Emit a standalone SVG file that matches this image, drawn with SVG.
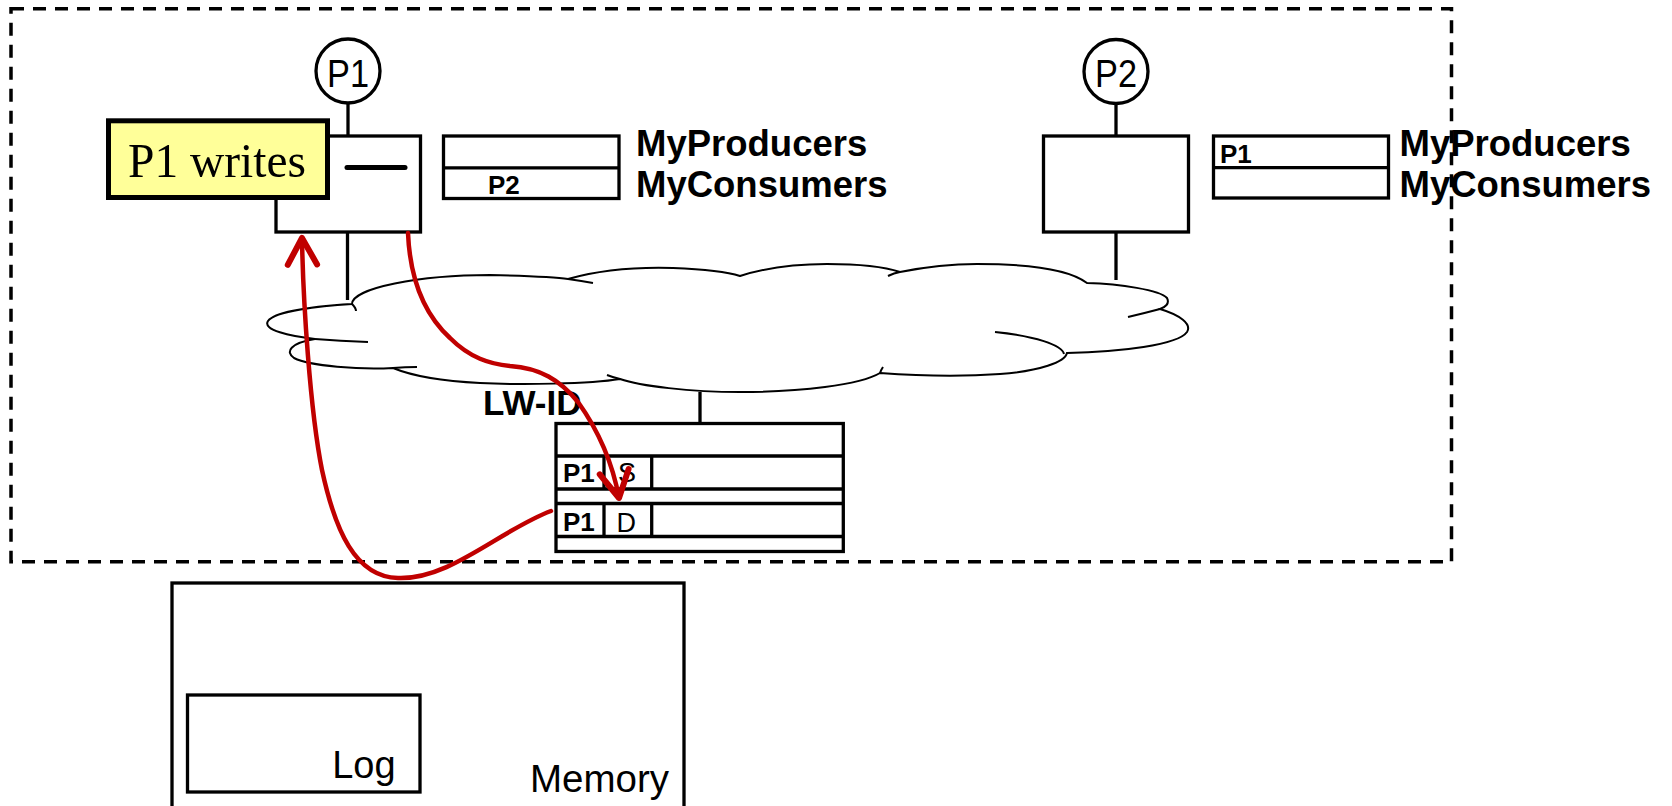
<svg xmlns="http://www.w3.org/2000/svg" width="1672" height="806" viewBox="0 0 1672 806">
<defs>
<style>
.k{fill:#fff;stroke:#000;stroke-width:3.3}
.ln{fill:none;stroke:#000;stroke-width:3.3}
.c{fill:#fff;stroke:#000;stroke-width:2}
.ct{fill:none;stroke:#000;stroke-width:2}
.r{fill:none;stroke:#C00000;stroke-width:4.5;stroke-linecap:round}
.s{font-family:"Liberation Sans",Arial,sans-serif;fill:#000}
.b{font-family:"Liberation Sans",Arial,sans-serif;font-weight:bold;fill:#000}
</style>
<marker id="ah" markerUnits="userSpaceOnUse" markerWidth="40" markerHeight="40" refX="0" refY="0" viewBox="-25 -15 30 30" orient="auto" overflow="visible">
<path d="M-20,-11 L0,0 L-20,11" fill="none" stroke="#C00000" stroke-width="4.5" stroke-linecap="round" stroke-linejoin="round"/>
</marker>
</defs>
<rect width="1672" height="806" fill="#fff"/>
<g id="boundary">
<rect x="11" y="8.7" width="1440.5" height="553" fill="none" stroke="#000" stroke-width="3.5" stroke-dasharray="13 9"/>
</g>
<g id="links">
<line class="ln" x1="348" y1="103" x2="348" y2="136"/>
<line class="ln" x1="347.5" y1="232" x2="347.5" y2="300"/>
<line class="ln" x1="1116" y1="103" x2="1116" y2="136"/>
<line class="ln" x1="1116" y1="232" x2="1116" y2="280"/>
<line class="ln" x1="700" y1="392" x2="700" y2="423.5"/>
</g>
<g id="cloud">
<path class="c" d="M352,304 C352,288 420,275 490,275 C530,276 555,277 568,279 C600,270 640,267 673,268 C700,269 725,271 740,276 C765,268 795,264 827,264 C860,264 885,267 900,272 C930,266 955,264 977,264 C1030,264 1070,270 1087,283 C1120,284 1160,290 1167,298 C1170,304 1165,307 1160,309 C1180,315 1192,324 1187,332 C1178,345 1120,352 1067,353 C1065,362 1040,371 1000,374 C960,377 920,376 880,373 C860,385 800,392 740,392 C690,392 640,386 620,379 C590,384 520,385 480,383 C440,381 410,375 393,368 C360,370 310,366 294,358 C285,352 290,343 315,339 C290,336 262,330 268,321 C275,311 320,306 352,304 Z"/>
<path class="ct" d="M568,279 Q582,281 593,283 M888,276 Q894,273 900,272 M1160,309 Q1145,313 1128,317 M1064,354 C1062,345 1035,336 995,332 M880,373 Q881,370 883,367 M620,379 Q612,377 607,375 M393,368 Q405,367 417,367 M315,339 Q340,341 368,342 M352,304 Q356,308 356,311"/>
</g>
<g id="p1-proc">
<circle class="k" cx="348" cy="71" r="32"/>
<text class="s" x="348" y="86.5" font-size="38" text-anchor="middle" textLength="42" lengthAdjust="spacingAndGlyphs">P1</text>
</g>
<g id="p1-node">
<rect class="k" x="276" y="136" width="144.5" height="96"/>
<line x1="347" y1="167.5" x2="405" y2="167.5" stroke="#000" stroke-width="5" stroke-linecap="round"/>
</g>
<g id="p1-writes">
<rect x="108.5" y="120.8" width="219" height="76.7" fill="#FFFF99" stroke="#000" stroke-width="5"/>
<text x="128" y="177" font-family="'Liberation Serif','Times New Roman',serif" font-size="49" fill="#000" textLength="178" lengthAdjust="spacingAndGlyphs">P1 writes</text>
</g>
<g id="p1-table">
<rect class="k" x="443.5" y="136" width="175.5" height="62.5"/>
<line class="ln" x1="443.5" y1="167.8" x2="619" y2="167.8"/>
<text class="b" x="488" y="194" font-size="26">P2</text>
<text class="b" x="636" y="156" font-size="36.5">MyProducers</text>
<text class="b" x="636" y="197" font-size="36.5">MyConsumers</text>
</g>
<g id="p2-proc">
<circle class="k" cx="1116" cy="71.5" r="32"/>
<text class="s" x="1116" y="87" font-size="38" text-anchor="middle" textLength="42" lengthAdjust="spacingAndGlyphs">P2</text>
</g>
<g id="p2-node">
<rect class="k" x="1043.5" y="136" width="145" height="96"/>
</g>
<g id="p2-table">
<rect class="k" x="1213.5" y="136" width="175" height="62"/>
<line class="ln" x1="1213.5" y1="167.7" x2="1388.5" y2="167.7"/>
<text class="b" x="1220" y="162.7" font-size="26">P1</text>
<text class="b" x="1399.5" y="155.5" font-size="36.5">MyProducers</text>
<text class="b" x="1399.5" y="196.7" font-size="36.5">MyConsumers</text>
</g>
<g id="lwid">
<text class="b" x="483" y="415" font-size="35">LW-ID</text>
<rect class="k" x="556" y="423.5" width="287.3" height="128"/>
<line class="ln" x1="556" y1="456" x2="843.3" y2="456"/>
<line class="ln" x1="556" y1="489" x2="843.3" y2="489"/>
<line class="ln" x1="556" y1="503.5" x2="843.3" y2="503.5"/>
<line class="ln" x1="556" y1="536.5" x2="843.3" y2="536.5"/>
<line class="ln" x1="604" y1="456" x2="604" y2="489"/>
<line class="ln" x1="651.7" y1="456" x2="651.7" y2="489"/>
<line class="ln" x1="604" y1="503.5" x2="604" y2="536.5"/>
<line class="ln" x1="651.7" y1="503.5" x2="651.7" y2="536.5"/>
<text class="b" x="563" y="481.7" font-size="26">P1</text>
<text class="s" x="618" y="481.7" font-size="27">S</text>
<text class="b" x="563" y="530.5" font-size="26">P1</text>
<text class="s" x="616.5" y="531.7" font-size="27">D</text>
</g>
<g id="memory">
<rect class="k" x="172" y="583" width="512" height="260"/>
<text class="s" x="669" y="791.7" font-size="38.5" text-anchor="end">Memory</text>
</g>
<g id="log">
<rect class="k" x="187.5" y="695" width="232.5" height="97"/>
<text class="s" x="395.6" y="778" font-size="38" text-anchor="end">Log</text>
</g>
<g id="connectors">
<path class="r" d="M551,511 C500,530 450,580 398,578 C355,577 335,530 322,470 C310,410 303,300 302,238" marker-end="url(#ah)"/>
<path class="r" d="M408,233 C410,280 425,315 450,338 C470,358 490,364 510,366 C540,368 560,380 578,402 C598,430 612,460 619,498" marker-end="url(#ah)"/>
</g>
</svg>
